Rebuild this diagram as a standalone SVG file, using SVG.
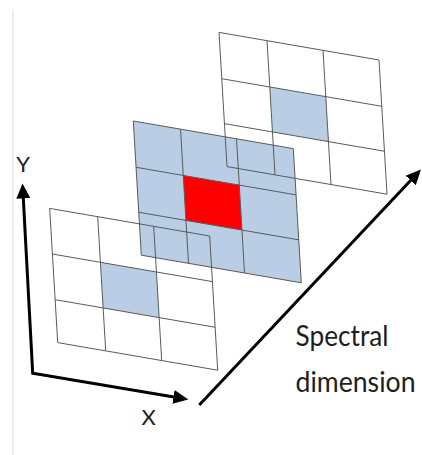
<svg xmlns="http://www.w3.org/2000/svg" width="422" height="455" viewBox="0 0 422 455">
<style>
.grid{fill:none;stroke:#5a5a5a;stroke-width:1;stroke-linejoin:miter}
.blue{fill:#b9cde5;stroke:none}
.red{fill:#ff0000;stroke:none}
.axis{fill:none;stroke:#000;stroke-width:3;stroke-linejoin:miter}
.lbl{font-family:Lato,"Open Sans","Liberation Sans",sans-serif;fill:#1e1e1e}
</style>
<defs>
<marker id="ah" markerUnits="userSpaceOnUse" markerWidth="16" markerHeight="16" refX="5" refY="7" orient="auto-start-reverse" viewBox="0 0 16 14">
<path d="M0,0 L15,7 L0,14 Z" fill="#000"/>
</marker>
</defs>
<rect width="422" height="455" fill="#fff"/>
<line x1="13" y1="10" x2="13" y2="455" stroke="#dde9f7" stroke-width="1.5"/>

<g id="grid-middle">
<path class="blue" d="M133.3,121 L293.3,148.6 L301.3,282.8 L141.3,255.2 Z"/>
<path class="red" d="M183.26,175.44 L239.26,185.1 L241.94,230.06 L185.94,220.4 Z"/>
<path class="grid" d="M133.3,121 L293.3,148.6 L301.3,282.8 L141.3,255.2 Z M180.5,129.14 L188.5,263.34 M236.5,138.8 L244.5,273 M136.06,167.3 L296.06,194.9 M138.74,212.26 L298.74,239.86"/>
</g>

<g id="grid-back">
<path class="blue" d="M269.76,86.98 L325.76,96.64 L328.44,141.6 L272.44,131.94 Z"/>
<path class="grid" d="M219,32.4 L379,60 L387,194.2 L227,166.6 Z M267,40.68 L275,174.88 M323,50.34 L331,184.54 M221.76,78.7 L381.76,106.3 M224.44,123.66 L384.44,151.26"/>
</g>

<g id="grid-front">
<path class="blue" d="M100.42,262.31 L156.42,271.97 L159.14,317.6 L103.14,307.94 Z"/>
<path class="grid" d="M49.7,208.4 L209.7,236 L217.7,370.2 L57.7,342.6 Z M97.7,216.68 L105.7,350.88 M153.7,226.34 L161.7,360.54 M52.42,254.03 L212.42,281.63 M55.14,299.66 L215.14,327.26"/>
</g>

<g id="connectors">
<path id="axis-xy" class="axis" d="M23.04,193.5 L32.7,373.3 L178.4,397.8" marker-start="url(#ah)" marker-end="url(#ah)"/>
<path id="axis-spectral" class="axis" d="M199.3,405 L414.1,176.8" marker-end="url(#ah)"/>
</g>

<g id="label-y"><text class="lbl" x="23.2" y="171.7" font-size="22" text-anchor="middle">Y</text></g>
<g id="label-x"><text class="lbl" x="148.7" y="425" font-size="22" text-anchor="middle">X</text></g>
<g id="label-spectral">
<text class="lbl" x="295.5" y="345.5" font-size="28" textLength="93" lengthAdjust="spacingAndGlyphs">Spectral</text>
<text class="lbl" x="295.5" y="392.3" font-size="28" textLength="120" lengthAdjust="spacingAndGlyphs">dimension</text>
</g>
</svg>
